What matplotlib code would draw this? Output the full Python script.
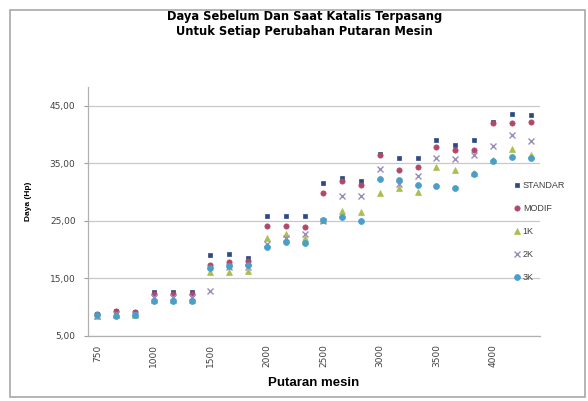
import numpy as np
import matplotlib.pyplot as plt
from matplotlib.patches import Rectangle

plt.rcParams['font.family'] = ['Liberation Sans', 'DejaVu Sans']

# Putaran mesin (rpm), tiga pengukuran per putaran
rpm = [750, 750, 750, 1000, 1000, 1000, 1500, 1500, 1500, 2000, 2000, 2000,
       2500, 2500, 2500, 3000, 3000, 3000, 3500, 3500, 3500, 4000, 4000, 4000]

# Daya (Hp)
standar = [8.8, 9.4, 9.2, 12.6, 12.6, 12.6, 19.1, 19.3, 18.6, 25.9, 25.9, 25.9,
           31.6, 32.5, 31.9, 36.6, 36.0, 36.0, 39.0, 38.2, 39.0, 42.2, 43.6, 43.4]
modif = [8.8, 9.3, 9.2, 12.3, 12.3, 12.3, 17.4, 17.8, 18.0, 24.2, 24.2, 24.0,
         29.8, 31.9, 31.2, 36.4, 33.9, 34.4, 37.9, 37.3, 37.3, 42.0, 42.1, 42.2]
k1 = [8.5, 8.6, 8.7, 11.2, 11.2, 11.2, 16.2, 16.2, 16.3, 22.0, 22.8, 22.0,
      25.2, 26.7, 26.5, 29.9, 30.8, 30.0, 34.4, 33.9, 33.3, 35.6, 37.5, 36.5]
k2 = [8.5, 8.8, 8.8, 11.8, 11.8, 11.8, 12.9, 17.0, 17.0, 21.0, 22.0, 22.8,
      25.0, 29.4, 29.4, 34.1, 31.5, 32.8, 36.0, 35.7, 36.4, 38.0, 39.9, 38.9]
k3 = [8.6, 8.4, 8.6, 11.0, 11.0, 11.0, 16.8, 17.2, 17.3, 20.5, 21.3, 21.2,
      25.1, 25.7, 25.0, 32.3, 32.2, 31.2, 31.1, 30.8, 33.1, 35.4, 36.2, 35.9]

series = [
    ("STANDAR", standar, "s", "#2E4A86", 3.0),
    ("MODIF", modif, "o", "#B2476A", 3.8),
    ("1K", k1, "^", "#A8C050", 4.0),
    ("2K", k2, "x", "#9A8CB8", 3.8),
    ("3K", k3, "o", "#4A9FC8", 4.3),
]

x = np.arange(len(rpm))

fig = plt.figure(figsize=(5.88, 4.01), dpi=100)
ax = fig.add_axes([88 / 588, 1 - 336 / 401, (540 - 88) / 588, (336 - 87) / 401])

for name, vals, mk, col, ms in series:
    ax.plot(x, vals, linestyle="none", marker=mk, markersize=ms, color=col,
            markeredgewidth=1.0 if mk == "x" else 0.5, label=name)

ax.set_xlim(-0.5, len(rpm) - 0.5)
ax.set_ylim(5, 48.3)
ax.set_yticks([5, 15, 25, 35, 45])
ax.set_yticklabels(["5,00", "15,00", "25,00", "35,00", "45,00"],
                   fontsize=6.5, color="#404040", family="DejaVu Sans")
ax.set_xticks(x[::3])
ax.set_xticklabels([str(r) for r in rpm[::3]], rotation=90, fontsize=6.5,
                   color="#404040", family="DejaVu Sans")
ax.tick_params(axis="x", length=0, pad=6)
ax.tick_params(axis="y", length=3, color="#a0a0a0", pad=6)

ax.grid(axis="y", color="#c8c8c8", linewidth=0.9)
ax.set_axisbelow(True)
for side in ["top", "right"]:
    ax.spines[side].set_visible(False)
for side in ["left", "bottom"]:
    ax.spines[side].set_color("#b0b0b0")
    ax.spines[side].set_linewidth(0.9)

ax.set_ylabel("Daya (Hp)", fontsize=6, fontweight="bold")
ax.yaxis.set_label_coords(-0.125, 0.54)
ax.set_xlabel("Putaran mesin", fontsize=9.5, fontweight="bold", labelpad=7)

fig.text(0.518, 0.975, "Daya Sebelum Dan Saat Katalis Terpasang\nUntuk Setiap Perubahan Putaran Mesin",
         ha="center", va="top", fontsize=8.3, fontweight="bold", linespacing=1.2,
         family="DejaVu Sans")

leg = ax.legend(loc="center left", bbox_to_anchor=(0.93, 0.42), frameon=False,
                fontsize=6.5, handletextpad=0.1, handlelength=1.0,
                labelspacing=1.55, borderpad=0)
for t in leg.get_texts():
    t.set_color("#404040")

# bingkai area grafik
fig.patches.append(Rectangle((10 / 588, 4 / 401), 575 / 588, 387 / 401,
                             transform=fig.transFigure, fill=False,
                             edgecolor="#a8a8a8", linewidth=1.2))

fig.savefig("out.png", dpi=100)
